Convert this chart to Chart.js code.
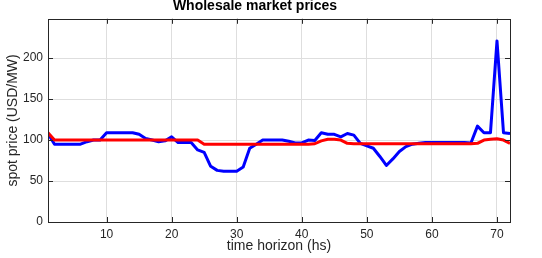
<!DOCTYPE html>
<html><head><meta charset="utf-8">
<script src="https://cdn.jsdelivr.net/npm/chart.js@4/dist/chart.umd.min.js"></script>
<style>html,body{margin:0;padding:0;background:#fff}#wrap{width:542px;height:258px}</style>
</head><body><div id="wrap"><canvas id="c"></canvas></div>
<script>
const hours = Array.from({length:72},(_,i)=>i+1);
const spotPrice = [108,95,95,95,95,95,98,100,100,109,109,109,109,109,107,102,100,98,99,104,97,97,97,88,85,68,63,62,62,62,67,90,95,100,100,100,100,98.5,96.5,96.5,100,99.5,109,107,107,104,108,106,96,93,90,80,69,77,86,92,95,96,97,97,97,97,97,97,97,96.5,117,109,109,221,109,108];
const avgPrice = [109,100,100,100,100,100,100,100,100,100,100,100,100,100,100,100,100,100,100,100,100,100,100,100,95,95,95,95,95,95,95,95,95,95,95,95,95,95,95,95,95,95.5,99,101,101,100,96,95.5,95.5,95.5,95.5,95.5,95.5,95.5,95.5,95.5,95.5,95.5,95.5,95.5,95.5,95.5,95.5,95.5,95.5,95.5,96,100,101,101.5,100,96];
const xTicks = [10,20,30,40,50,60,70];
const yTicks = [0,50,100,150,200];

const FONT = "'Liberation Sans', Arial, sans-serif";
const boxPlugin = {
  id:'box',
  afterDraw(chart){
    const {ctx, chartArea:{left,right,top,bottom}, scales:{x,y}} = chart;
    ctx.save();
    ctx.strokeStyle='#262626'; ctx.lineWidth=1;
    ctx.beginPath();
    xTicks.forEach(v=>{const p=Math.round(x.getPixelForValue(v))+0.5;
      ctx.moveTo(p,bottom);ctx.lineTo(p,bottom-5);ctx.moveTo(p,top);ctx.lineTo(p,top+5);});
    yTicks.forEach(v=>{const p=Math.round(y.getPixelForValue(v))+0.5;
      ctx.moveTo(left,p);ctx.lineTo(left+5,p);ctx.moveTo(right,p);ctx.lineTo(right-5,p);});
    ctx.stroke();
    ctx.strokeRect(Math.round(left)+0.5,Math.round(top)+0.5,Math.round(right-left),Math.round(bottom-top));
    ctx.restore();
  }
};
new Chart(document.getElementById('c'),{
  type:'line',
  data:{labels:hours,datasets:[
    {label:'avg',data:hours.map((h,i)=>({x:h,y:avgPrice[i]})),borderColor:'#ff0000',borderWidth:3,pointRadius:0,tension:0,order:0,borderJoinStyle:'round'},
    {label:'spot',data:hours.map((h,i)=>({x:h,y:spotPrice[i]})),borderColor:'#0000ff',borderWidth:3,pointRadius:0,tension:0,order:1,borderJoinStyle:'round'}
  ]},
  options:{
    responsive:true,maintainAspectRatio:false,animation:false,
    layout:{padding:{left:0,right:32,top:0,bottom:0}},
    plugins:{legend:{display:false},tooltip:{enabled:false},
      title:{display:true,text:'Wholesale market prices',color:'#000',font:{family:FONT,size:14,weight:'bold'},padding:{top:-2,bottom:4}}},
    scales:{
      x:{type:'linear',min:1,max:72,
        afterBuildTicks:a=>{a.ticks=xTicks.map(v=>({value:v}));},
        afterFit:s=>{s.height=36;},
        grid:{color:'#dedede',drawTicks:false},border:{display:false},
        ticks:{color:'#262626',font:{family:FONT,size:12},padding:5,maxRotation:0},
        title:{display:true,text:'time horizon (hs)',color:'#262626',font:{family:FONT,size:14},padding:{top:0,bottom:3}}},
      y:{type:'linear',min:0,max:248,
        afterBuildTicks:a=>{a.ticks=yTicks.map(v=>({value:v}));},
        afterFit:s=>{s.width=48;},
        grid:{color:'#dedede',drawTicks:false},border:{display:false},
        ticks:{color:'#262626',font:{family:FONT,size:12},padding:5},
        title:{display:true,text:'spot price (USD/MW)',color:'#262626',font:{family:FONT,size:14},padding:{top:5,bottom:0}}}
    }
  },
  plugins:[boxPlugin]
});
</script></body></html>
